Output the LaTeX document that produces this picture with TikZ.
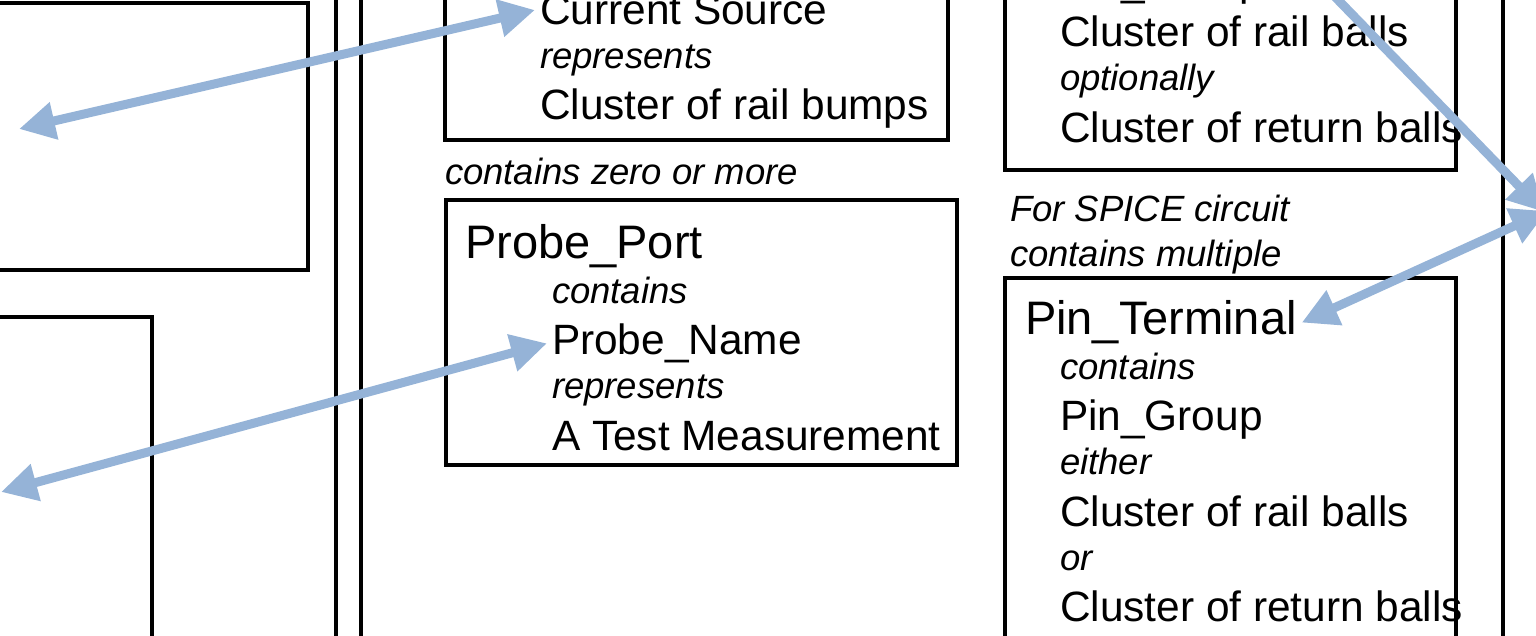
\documentclass[tikz,border=0pt]{standalone}
\usepackage{fontspec}
\setmainfont{Liberation Sans}
\usetikzlibrary{arrows.meta}
\definecolor{linkblue}{RGB}{149,179,215}
\newcommand{\titlefont}{\fontsize{23.5pt}{28pt}\selectfont}
\newcommand{\boxfont}{\fontsize{21.2pt}{25pt}\selectfont}
\newcommand{\notefont}{\fontsize{18.25pt}{22pt}\selectfont\itshape}

\begin{document}
\begin{tikzpicture}[x=0.5pt,y=-0.5pt,
  title/.style={font=\titlefont,anchor=base west,inner sep=0pt,outer sep=2.5pt},
  item/.style={font=\boxfont,anchor=base west,inner sep=0pt,outer sep=2.5pt},
  note/.style={font=\notefont,anchor=base west,inner sep=0pt,outer sep=2.5pt},
  boxline/.style={line width=2pt,black},
  link/.style={line width=4.5pt,linkblue,{Triangle[length=18pt,width=18pt]}-{Triangle[length=18pt,width=18pt]},
    preaction={draw=black!18,transform canvas={shift={(0.8pt,-1.2pt)}}}}]
\useasboundingbox (0,0) rectangle (1536,636);
\clip (0,0) rectangle (1536,636);
% left column boxes and dividers
\draw [boxline] (-20,3) rectangle (308,270);
\draw [boxline] (-20,317) rectangle (152,660);
\draw [boxline] (336,-10) -- (336,650);
\draw [boxline] (361,-10) -- (361,650);
% middle column
\draw [boxline] (445,-20) rectangle (948,140);
\node [item] (srcname) at (535,24.6)  {Current Source};
\node [note] (srcrep)  at (535,68.4)  {represents};
\node [item] (srcwhat) at (535,120)   {Cluster of rail bumps};
\node [note] (zero)    at (440,185)   {contains zero or more};
\draw [boxline] (446,200) rectangle (957,465);
\node [title] (probeport) at (460,259)   {Probe\_Port};
\node [note]  (probecont) at (547,303)   {contains};
\node [item]  (probename) at (547,354.5) {Probe\_Name};
\node [note]  (proberep)  at (547,398)   {represents};
\node [item]  (probewhat) at (547,450)   {A Test Measurement};
% right column
\draw [boxline] (1005,-20) rectangle (1456,170);
\node [item] (topgrp)  at (1055,-4.6)  {Pin\_Group};
\node [item] (toprail) at (1055,47)    {Cluster of rail balls};
\node [note] (topopt)  at (1055,90.8)  {optionally};
\node [item] (topret)  at (1055,142.4) {Cluster of return balls};
\node [note] (spice)   at (1005,222)   {For SPICE circuit};
\node [note] (multi)   at (1005,266)   {contains multiple};
\draw [boxline] (1005,278) rectangle (1456,660);
\node [title] (pinterm)  at (1020,335)   {Pin\_Terminal};
\node [note]  (pincont)  at (1055,379)   {contains};
\node [item]  (pingrp)   at (1055,430.5) {Pin\_Group};
\node [note]  (pineither) at (1055,474)  {either};
\node [item]  (pinrail)  at (1055,526)   {Cluster of rail balls};
\node [note]  (pinor)    at (1055,570)   {or};
\node [item]  (pinret)   at (1055,621.5) {Cluster of return balls};
\draw [boxline] (1503,-10) -- (1503,650);
% links
\coordinate (leftend1) at (19,129);
\coordinate (leftend2) at (1,492);
\coordinate (upend)    at (1241,-100);
\coordinate (rightend1) at (1544,212);
\coordinate (rightend2) at (1547,211);
\draw [link] (leftend1) -- (srcname.west);
\draw [link] (leftend2) -- (probename.west);
\draw [link] (upend) -- (rightend1);
\draw [link] (pinterm.east) -- (rightend2);
\end{tikzpicture}
\end{document}
